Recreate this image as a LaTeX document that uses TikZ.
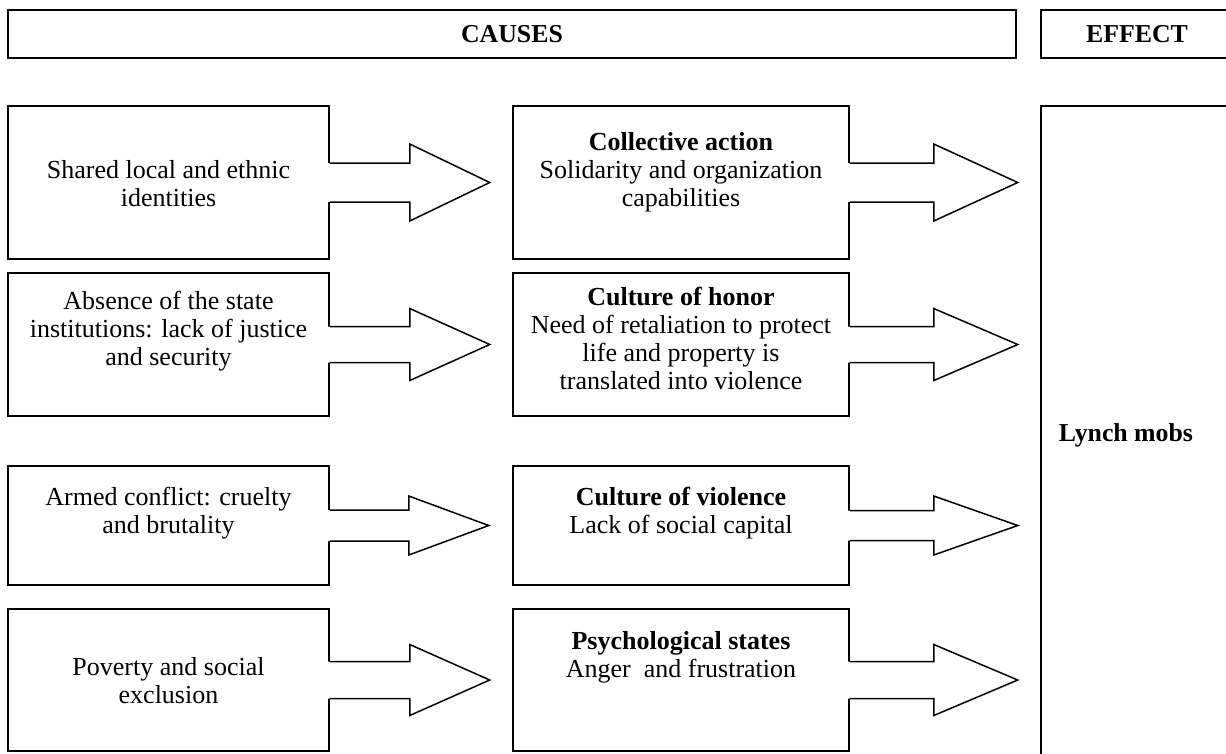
\documentclass[tikz,border=0pt]{standalone}
\usepackage{fontspec}
\setmainfont{Liberation Serif}
\usetikzlibrary{positioning}

\tikzset{
  box/.style={draw, line width=1.5pt, inner sep=0pt, font=\fontsize{25.8}{28}\selectfont\bfseries},
  txt/.style={align=center, inner sep=0pt, anchor=base, font=\fontsize{26}{28}\selectfont},
}

% fat arrow out of a box: node, shaft length, head length, shaft half, head half
\newcommand{\fatarrow}[5]{%
  \begin{scope}[shift={(#1.east)}]
    \fill[white] (-2,-#4) -- (#2,-#4) -- (#2,-#5) -- (#2+#3,0) -- (#2,#5) -- (#2,#4) -- (-2,#4) -- cycle;
    \draw[line width=1.5pt] (0,-#4) -- (#2,-#4) -- (#2,-#5) -- (#2+#3,0) -- (#2,#5) -- (#2,#4) -- (0,#4);
  \end{scope}}

\begin{document}
\begin{tikzpicture}[x=1pt, y=-1pt]
  \useasboundingbox (0,0) rectangle (1226,753);
  \clip (0,0) rectangle (1226,753);

  % headers
  \node[box, minimum width=1008pt, minimum height=48pt] (causes) at (512,34) {CAUSES};
  \node[box, minimum width=192pt, minimum height=48pt] (effect) at (1137,34) {EFFECT};

  % causes
  \node[box, minimum width=321pt, minimum height=153pt] (shared) at (168.5,182.5) {};
  \node[box, minimum width=321pt, minimum height=143pt] (absence) at (168.5,344.5) {};
  \node[box, minimum width=321pt, minimum height=119pt] (armed) at (168.5,525.5) {};
  \node[box, minimum width=321pt, minimum height=142pt] (poverty) at (168.5,680) {};

  % mechanisms
  \node[box, minimum width=336pt, minimum height=153pt] (collective) at (681,182.5) {};
  \node[box, minimum width=336pt, minimum height=143pt] (honor) at (681,344.5) {};
  \node[box, minimum width=336pt, minimum height=119pt] (violence) at (681,525.5) {};
  \node[box, minimum width=336pt, minimum height=142pt] (psych) at (681,680) {};

  % effect
  \node[box, minimum width=192pt, minimum height=660pt] (lynch) at (1137,436) {};

  \fatarrow{shared}{80}{80}{19.5}{38.5}
  \fatarrow{absence}{80}{80}{18}{36}
  \fatarrow{armed}{79}{80}{15.5}{29.5}
  \fatarrow{poverty}{80}{80}{18.5}{35.5}
  \fatarrow{collective}{84}{84}{19.5}{38.5}
  \fatarrow{honor}{84}{84}{18}{36}
  \fatarrow{violence}{84}{84}{15}{29.5}
  \fatarrow{psych}{84}{84}{18.5}{35.5}

  % texts (placed at the baseline of their last line)
  \node[txt] (sharedt) at (168.5,206) {Shared local and ethnic\\identities};
  \node[txt] (absencet) at (168.5,365) {Absence of the state\\institutions: lack of justice\\and security};
  \node[txt] (armedt) at (168.5,533) {Armed conflict: cruelty\\and brutality};
  \node[txt] (povertyt) at (168.5,703) {Poverty and social\\exclusion};

  \node[txt] (collectivet) at (681,206) {\textbf{Collective action}\\Solidarity and organization\\capabilities};
  \node[txt] (honort) at (681,389) {\textbf{Culture of honor}\\Need of retaliation to protect\\life and property is\\translated into violence};
  \node[txt] (violencet) at (681,533) {\textbf{Culture of violence}\\Lack of social capital};
  \node[txt] (psycht) at (681,677) {\textbf{Psychological states}\\Anger\ \ and frustration};

  \node[txt, font=\fontsize{25.8}{28}\selectfont\bfseries] (lyncht) at (1126,441) {Lynch mobs};
\end{tikzpicture}
\end{document}
